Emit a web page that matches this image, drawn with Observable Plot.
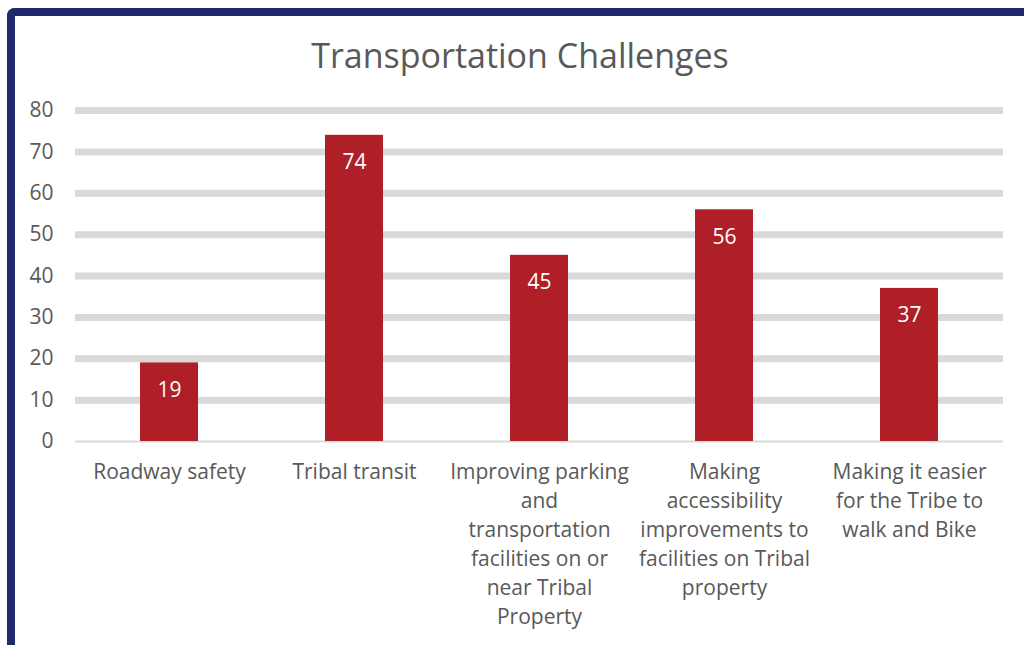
<!DOCTYPE html>
<html><head><meta charset="utf-8">
<script src="https://cdn.jsdelivr.net/npm/d3@7"></script>
<script src="https://cdn.jsdelivr.net/npm/@observablehq/plot@0.6"></script>
<style>
html,body{margin:0;padding:0;background:#fff;overflow:hidden;}
#frame{position:absolute;left:7px;top:8px;width:1040px;height:700px;border-left:8px solid #1F2A6B;border-top:8px solid #1F2A6B;border-top-left-radius:8px;box-sizing:border-box;}
#title{position:absolute;left:0;top:0;width:1040px;height:90px;text-align:center;font:34px "Open Sans",sans-serif;color:#595959;line-height:110px;}
#chart{position:absolute;left:0;top:90px;}
</style></head>
<body>
<div id="frame"></div>
<div id="title">Transportation Challenges</div>
<div id="chart"></div>
<script>
const categories = ["Roadway safety","Tribal transit","Improving parking and transportation facilities on or near Tribal Property","Making accessibility improvements to facilities on Tribal property","Making it easier for the Tribe to walk and Bike"];
const tickLabels = ["Roadway safety","Tribal transit","Improving parking\nand\ntransportation\nfacilities on or\nnear Tribal\nProperty","Making\naccessibility\nimprovements to\nfacilities on Tribal\nproperty","Making it easier\nfor the Tribe to\nwalk and Bike"];
const values = [19,74,45,56,37];
const yTicks = [0,10,20,30,40,50,60,70,80];

const data = categories.map((c,i)=>({cat:c, label:tickLabels[i], value:values[i]}));
const font = '"Open Sans",sans-serif';
const plot = Plot.plot({
  width:1024, height:555,
  marginLeft:75, marginRight:21, marginTop:20, marginBottom:204,
  style:{fontFamily:font, fontSize:"21px", color:"#595959", background:"transparent"},
  x:{domain:categories, paddingInner:0.6875, paddingOuter:0.34375, axis:null},
  y:{domain:[0,80], axis:null},
  marks:[
    Plot.ruleY(yTicks.filter(d=>d>0), {stroke:"#D9D9D9", strokeWidth:7}),
    Plot.ruleY([0], {stroke:"#D9D9D9", strokeWidth:2}),
    Plot.barY(data, {x:"cat", y:"value", fill:"#AE1F28"}),
    Plot.text(yTicks, {y:d=>d, frameAnchor:"left", dx:-22, textAnchor:"end", text:d=>String(d), fill:"#595959", fontSize:21}),
    Plot.text(data, {x:"cat", y:"value", text:d=>String(d.value), fill:"white", fontSize:21, dy:27}),
    Plot.text(data, {x:"cat", y:0, text:"label", fill:"#595959", fontSize:21, lineAnchor:"top", lineHeight:1.38, dy:17})
  ]
});
document.getElementById("chart").appendChild(plot);
</script>
</body></html>
